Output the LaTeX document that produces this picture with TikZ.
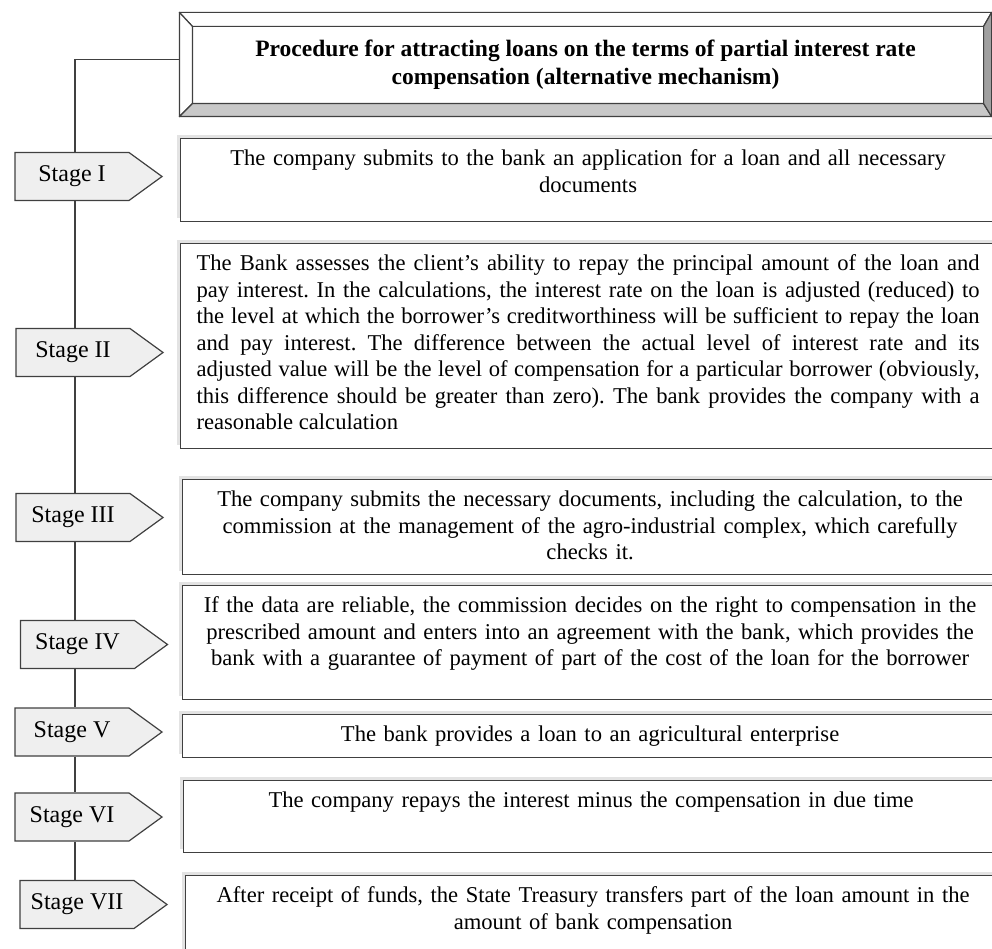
\documentclass[tikz,border=0pt]{standalone}
\usepackage{fontspec}
\setmainfont{Liberation Serif}
\usetikzlibrary{shapes.symbols,shadows}
\definecolor{edge}{HTML}{404040}
\definecolor{stagefill}{HTML}{EFEFEF}
\definecolor{bevlight}{HTML}{C8C8C8}
\definecolor{bevdark}{HTML}{A0A0A0}
\frenchspacing
\hyphenpenalty=10000
\tikzset{
  stagebox/.style={signal, signal to=east, signal pointer angle=72, draw=edge, fill=stagefill,
    line width=1.2pt, minimum width=147pt, minimum height=48pt, inner sep=2pt,
    font=\fontsize{24}{27}\selectfont},
  tbox/.style={draw=edge, fill=white, line width=1.2pt, anchor=north west, minimum width=815pt,
    text width=795pt, align=center, inner xsep=10pt, inner ysep=10pt, text height=17pt, text depth=#1,
    drop shadow={shadow xshift=-4pt, shadow yshift=4pt, fill=black!22},
    font=\fontsize{22.6}{26.5}\selectfont},
  titlebox/.style={draw=edge, line width=1.2pt, minimum width=811pt, minimum height=103pt,
    align=center, font=\bfseries\fontsize{23.5}{28}\selectfont},
  bevel/.style={draw=edge, line width=1.2pt, line join=round},
  link/.style={draw=edge, line width=1.2pt},
}
\begin{document}
\begin{tikzpicture}[x=1pt, y=-1pt]
\useasboundingbox (0,0) rectangle (992,949);
% heading with bevelled frame
\node[titlebox] (title) at (585.5,64.5) {Procedure for attracting loans on the terms of partial interest rate\\ compensation (alternative mechanism)};
\coordinate (inw) at ([shift={(13pt,-14pt)}]title.north west);
\coordinate (ine) at ([shift={(-8pt,-14pt)}]title.north east);
\coordinate (ise) at ([shift={(-8pt,13pt)}]title.south east);
\coordinate (isw) at ([shift={(13pt,13pt)}]title.south west);
\path[bevel, fill=white] (title.north west) -- (title.north east) -- (ine) -- (inw) -- cycle;
\path[bevel, fill=white] (title.north west) -- (inw) -- (isw) -- (title.south west) -- cycle;
\path[bevel, fill=bevlight] (title.south west) -- (isw) -- (ise) -- (title.south east) -- cycle;
\path[bevel, fill=bevdark] (title.north east) -- (ine) -- (ise) -- (title.south east) -- cycle;

% stage text boxes
\node[tbox=46pt] (t1) at (180,138) {The company submits to the bank an application for a loan and all necessary\\ documents};
\node[tbox=168pt, align=justify, text width=783pt, inner xsep=16pt] (t2) at (180,243) {The Bank assesses the client's ability to repay the principal amount of the loan and\linebreak
 pay interest. In the calculations, the interest rate on the loan is adjusted (reduced) to\linebreak
 the level at which the borrower's creditworthiness will be sufficient to repay the loan\linebreak
 and pay interest. The difference between the actual level of interest rate and its\linebreak
 adjusted value will be the level of compensation for a particular borrower (obviously,\linebreak
 this difference should be greater than zero). The bank provides the company with a\linebreak
 reasonable calculation};
\node[tbox=58pt] (t3) at (182,479) {The company submits the necessary documents, including the calculation, to the\\ commission at the management of the agro-industrial complex, which carefully\\ checks it.};
\node[tbox=77pt] (t4) at (182,585) {If the data are reliable, the commission decides on the right to compensation in the\\ prescribed amount and enters into an agreement with the bank, which provides the\\ bank with a guarantee of payment of part of the cost of the loan for the borrower};
\node[tbox=6pt] (t5) at (182,714) {The bank provides a loan to an agricultural enterprise};
\node[tbox=35pt] (t6) at (183,780) {The company repays the interest minus the compensation in due time};
\node[tbox=50pt] (t7) at (185,875) {After receipt of funds, the State Treasury transfers part of the loan amount in the\\ amount of bank compensation};

% stage tags
\node[stagebox] (s1) at (72,176.5) {Stage I};
\node[stagebox] (s2) at (73,352.5) {Stage II};
\node[stagebox] (s3) at (73,517.5) {Stage III};
\node[stagebox] (s4) at (77.5,644.5) {Stage IV};
\node[stagebox] (s5) at (72,732) {Stage V};
\node[stagebox] (s6) at (72,817) {Stage VI};
\node[stagebox] (s7) at (77,904.5) {Stage VII};

% spine
\coordinate (spine) at (75,0);
\draw[link] ([yshift=5pt]title.west) -| (s1.north -| spine);
\foreach \a/\b in {s1/s2,s2/s3,s3/s4,s4/s5,s5/s6,s6/s7}
  \draw[link] (\a.south -| spine) -- (\b.north -| spine);
\end{tikzpicture}
\end{document}
